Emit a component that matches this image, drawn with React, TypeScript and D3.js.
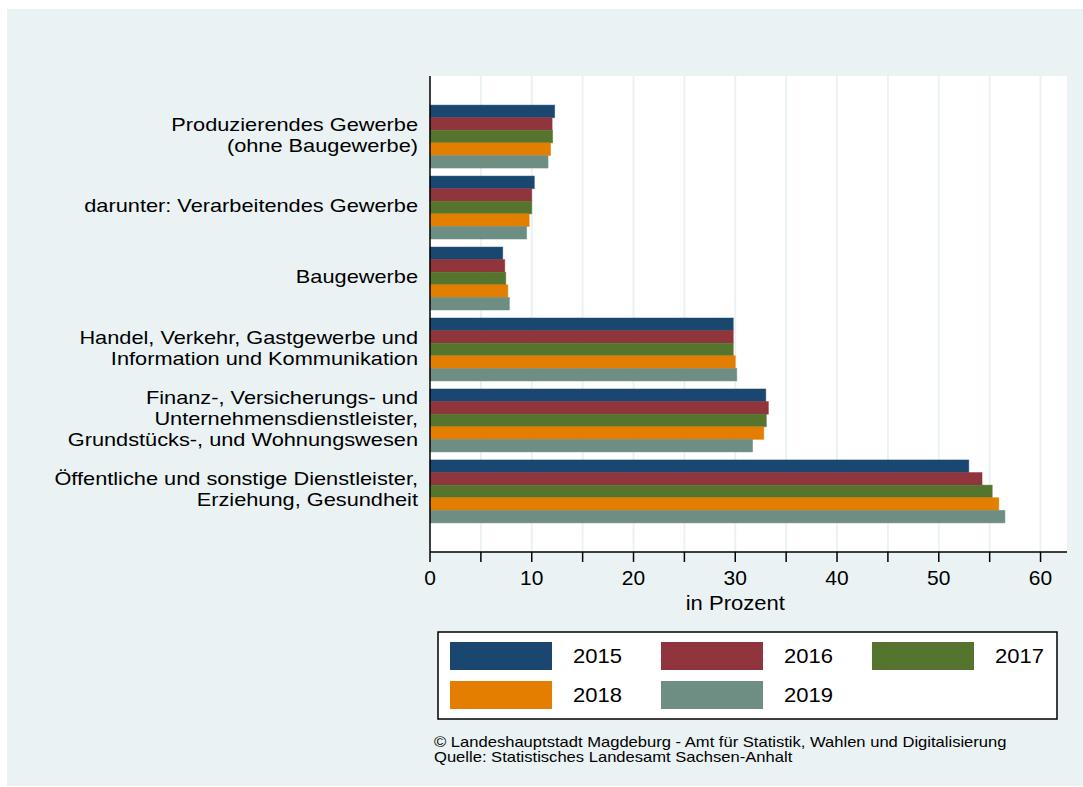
import React from 'react'
import * as d3 from 'd3'

// categories (lines of each label)
const categories = [
  ['Produzierendes Gewerbe', '(ohne Baugewerbe)'],
  ['darunter: Verarbeitendes Gewerbe'],
  ['Baugewerbe'],
  ['Handel, Verkehr, Gastgewerbe und', 'Information und Kommunikation'],
  ['Finanz-, Versicherungs- und', 'Unternehmensdienstleister,', 'Grundstücks-, und Wohnungswesen'],
  ['Öffentliche und sonstige Dienstleister,', 'Erziehung, Gesundheit'],
]
const years = ['2015', '2016', '2017', '2018', '2019']
const colors = ['#1a476f', '#90353b', '#55752f', '#e37e00', '#6e8e84']

// values in percent, per category, per year
const v2015 = [12.25, 10.25, 7.15, 29.8, 33.0, 52.95]
const v2016 = [12.0, 10.0, 7.35, 29.8, 33.25, 54.25]
const v2017 = [12.05, 10.0, 7.45, 29.8, 33.05, 55.25]
const v2018 = [11.85, 9.75, 7.65, 30.0, 32.8, 55.9]
const v2019 = [11.6, 9.5, 7.8, 30.15, 31.7, 56.5]
const series = [v2015, v2016, v2017, v2018, v2019]

const xTicks = [0, 10, 20, 30, 40, 50, 60]
const xGrid = d3.range(5, 65, 5)

const font = '"Liberation Sans", Arial, Helvetica, sans-serif'

// text drawn a little wider than the font, like the reference's rendering
function SText({ x, y, size, sx, anchor = 'start', children }: any) {
  return (
    <text
      transform={`translate(${x},${y}) scale(${sx},1)`}
      dy="0.35em"
      fontSize={size}
      textAnchor={anchor}
      fill="#000"
    >
      {children}
    </text>
  )
}

export default function App() {
  const left = 430
  const right = 1067
  const top = 76
  const bottom = 552

  const x = d3.scaleLinear().domain([0, 62.6]).range([left, right])
  const y = d3.scaleBand<number>()
    .domain(d3.range(categories.length))
    .range([top, bottom])
    .paddingInner(0.113)
    .paddingOuter(0.41)
  const yy = d3.scaleBand<number>().domain(d3.range(years.length)).range([0, y.bandwidth()])

  // legend layout
  const legCols = 3
  const legX = [450, 661, 872]
  const legY = [642, 681]

  return (
    <svg width={1083} height={787} style={{ position: 'absolute', left: 0, top: 0 }} fontFamily={font}>
      <rect x={7} y={9} width={1076} height={777} fill="#eaf2f3" />
      <rect x={left} y={top} width={right - left} height={bottom - top} fill="#ffffff" />
      {xGrid.map(t => (
        <line key={t} x1={x(t)} x2={x(t)} y1={top} y2={bottom} stroke="#eaf2f3" strokeWidth={2} />
      ))}
      {categories.map((_, i) =>
        series.map((s, j) => (
          <rect
            key={`${i}-${j}`}
            x={x(0)}
            y={(y(i) as number) + (yy(j) as number)}
            width={x(s[i]) - x(0)}
            height={yy.bandwidth()}
            fill={colors[j]}
            stroke={colors[j]}
            strokeOpacity={0.6}
            strokeWidth={0.8}
          />
        ))
      )}
      {categories.map((lines, i) => {
        const cy = (y(i) as number) + y.bandwidth() / 2 - 2
        const lh = 21
        const y0 = cy - ((lines.length - 1) * lh) / 2
        return (
          <g key={i}>
            {lines.map((l, k) => (
              <SText key={k} x={418} y={y0 + k * lh} size={18.6} sx={1.17} anchor="end">{l}</SText>
            ))}
          </g>
        )
      })}
      <line x1={left} x2={left} y1={top} y2={bottom} stroke="#000" strokeWidth={1.5} />
      <line x1={left} x2={right} y1={bottom} y2={bottom} stroke="#000" strokeWidth={1.5} />
      {d3.range(0, 65, 5).map(t => (
        <line key={t} x1={x(t)} x2={x(t)} y1={bottom} y2={bottom + 10} stroke="#000" strokeWidth={1.5} />
      ))}
      {xTicks.map(t => (
        <SText key={t} x={x(t)} y={578} size={20} sx={1.05} anchor="middle">{t}</SText>
      ))}
      <SText x={x(30)} y={603} size={19.5} sx={1.13} anchor="middle">in Prozent</SText>

      <rect x={438} y={632} width={619} height={87} fill="#fff" stroke="#000" strokeWidth={1.5} />
      {years.map((yr, j) => {
        const c = j % legCols
        const r = Math.floor(j / legCols)
        return (
          <g key={yr}>
            <rect x={legX[c]} y={legY[r]} width={102} height={28} fill={colors[j]} />
            <SText x={legX[c] + 123} y={legY[r] + 14} size={19.5} sx={1.13}>{yr}</SText>
          </g>
        )
      })}

      <SText x={434} y={742} size={14.3} sx={1.16}>©  Landeshauptstadt Magdeburg - Amt für Statistik, Wahlen und Digitalisierung</SText>
      <SText x={434} y={757} size={14.3} sx={1.16}>Quelle: Statistisches Landesamt Sachsen-Anhalt</SText>
    </svg>
  )
}
